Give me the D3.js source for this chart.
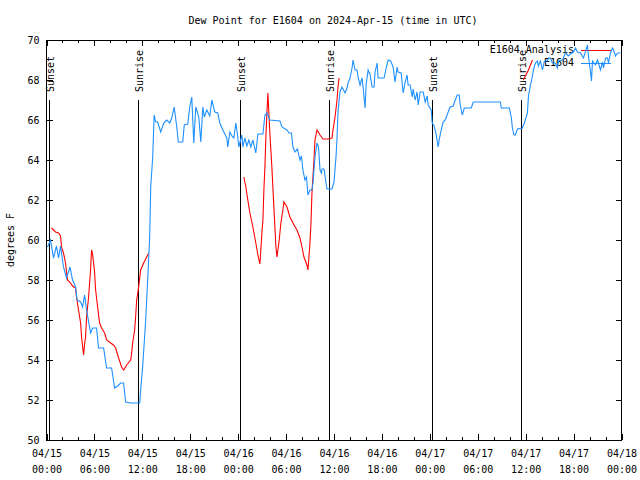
<!DOCTYPE html>
<html>
<head>
<meta charset="utf-8">
<script src="https://cdn.jsdelivr.net/npm/d3@7"></script>
<style>
  html, body { margin: 0; padding: 0; background: #fff; }
  svg { display: block; }
  text { font-family: "DejaVu Sans Mono", "Liberation Mono", monospace; font-size: 10px; fill: #000; }
</style>
</head>
<body>
<svg id="chart" width="640" height="480"></svg>
<script>
// ---- data (time = hours after 2024-04-15 00:00 UTC, value = dew point °F) ----
const chartTitle = "Dew Point for E1604 on 2024-Apr-15 (time in UTC)";
const yLabel = "degrees F";
const seriesNames = ["E1604 Analysis", "E1604"];
const yTicks = [50, 52, 54, 56, 58, 60, 62, 64, 66, 68, 70];

const obsHours = [0.13,0.50,0.88,1.25,1.51,1.76,2.13,2.51,2.95,3.26,3.64,3.83,4.27,4.52,4.77,5.02,5.52,5.77,6.27,6.52,
  7.15,7.53,8.15,8.53,8.91,9.28,9.66,9.91,10.54,11.67,11.79,12.04,12.42,12.67,12.92,13.05,13.30,13.48,13.67,13.92,
  14.30,14.68,15.05,15.43,15.68,15.99,16.31,16.50,17.06,17.25,17.69,17.94,18.19,18.44,18.69,19.07,19.32,19.57,19.76,20.07,
  20.45,20.70,21.07,21.45,21.70,22.08,22.58,22.70,22.96,23.21,23.46,23.71,23.90,24.08,24.46,24.59,24.84,25.09,25.34,25.59,
  25.84,26.21,26.47,27.10,27.35,27.60,27.97,29.23,29.48,30.11,30.36,30.67,30.86,31.11,31.42,31.74,31.92,32.11,32.36,32.55,
  32.74,32.99,33.24,33.37,33.62,33.87,34.06,34.25,34.43,34.50,34.75,35.00,35.12,35.75,36.00,36.25,36.38,36.50,36.75,37.00,
  37.13,37.38,37.63,37.76,38.01,38.26,38.38,38.64,38.89,39.01,39.26,39.51,39.64,39.89,40.02,40.27,40.52,40.77,41.02,41.14,
  41.40,41.52,42.27,42.53,42.78,43.09,43.40,43.65,43.90,44.03,44.41,44.66,44.91,45.16,45.28,45.53,45.79,45.91,46.16,46.41,
  46.54,46.79,47.17,47.42,47.67,47.79,48.17,48.29,48.55,48.80,49.05,49.17,49.42,49.67,49.93,50.30,50.55,50.93,51.18,51.43,
  51.68,51.81,52.06,52.31,53.19,53.44,56.83,56.95,57.96,58.21,58.34,58.53,58.71,58.97,59.59,59.84,60.22,60.35,60.60,60.85,
  60.97,61.22,61.47,61.59,61.84,62.10,62.35,62.72,62.85,63.10,63.35,63.72,63.97,64.10,64.60,64.98,65.35,65.60,65.98,66.23,
  66.48,66.86,67.24,67.74,67.86,68.11,68.24,68.37,68.74,68.99,69.37,69.62,69.75,70.00,70.25,70.37,70.62,70.87,71.00,71.25,
  71.50,71.88];
const obsValues = [59.65,60.0,59.1,59.7,59.1,59.7,58.65,58.1,58.65,58.0,57.65,57.0,56.9,56.65,57.25,56.5,55.35,55.6,55.6,54.6,
  54.6,53.6,53.6,52.6,52.7,52.85,52.85,51.9,51.85,51.85,52.5,53.65,56.0,58.0,60.15,62.65,64.15,66.25,65.9,65.9,
  65.4,65.85,66.0,65.85,66.1,66.65,65.65,64.9,64.9,65.75,65.8,66.65,67.15,64.85,66.65,66.15,64.9,66.65,66.15,66.5,
  66.2,67.0,66.4,66.35,65.85,65.5,65.1,64.65,65.4,65.2,65.1,65.85,65.3,64.65,65.25,64.65,65.1,64.7,65.0,64.65,
  65.0,64.35,65.3,65.3,66.25,66.35,66.0,65.95,65.65,65.5,65.35,65.35,64.65,64.4,64.55,64.0,64.2,63.5,63.0,63.15,
  62.25,62.5,62.5,62.85,64.15,64.85,64.65,63.5,63.35,63.55,63.55,62.85,62.55,62.55,62.9,64.15,65.1,66.4,67.4,67.65,
  67.55,67.35,67.6,67.85,68.1,68.6,69.0,68.5,68.5,68.15,67.75,68.1,67.65,66.6,67.75,68.5,68.25,67.65,67.65,68.4,
  68.85,68.1,68.1,68.6,69.0,68.95,68.65,67.9,68.65,68.4,68.35,67.35,67.9,68.25,67.75,67.75,67.15,67.55,67.0,67.4,
  66.75,67.4,67.4,66.9,67.2,66.75,66.5,65.85,65.7,65.25,64.65,65.0,65.5,65.9,66.0,66.4,66.65,66.7,67.0,67.25,
  67.25,66.75,66.25,66.6,66.6,66.9,66.9,66.6,66.6,66.1,65.6,65.25,65.25,65.55,65.6,65.85,66.35,67.2,67.75,68.2,
  68.5,68.85,68.95,68.7,68.95,68.5,68.95,68.95,69.1,69.1,68.85,68.85,68.6,68.95,69.0,69.35,69.2,69.3,69.4,69.6,
  69.4,69.35,69.1,69.75,69.2,68.45,67.95,68.95,68.75,69.0,68.5,68.9,68.6,69.1,69.1,68.85,69.35,69.6,69.5,69.2,
  69.35,69.35];

// analysis: null separates the gaps in the series
const anaHours = [0.63,1.13,1.51,1.76,1.88,2.13,2.38,2.51,2.63,3.01,3.26,3.64,3.76,4.01,4.27,4.39,4.64,4.77,4.89,5.02,
  5.27,5.52,5.64,5.77,6.02,6.15,6.40,6.65,6.90,7.28,7.53,8.03,8.40,8.66,9.03,9.41,9.66,10.04,10.54,10.66,
  10.79,11.04,11.16,11.29,11.54,11.79,12.17,12.54,12.80,null,
  24.71,24.96,25.21,25.47,25.84,26.21,26.47,26.72,26.97,27.10,27.22,27.35,27.47,27.60,27.72,27.97,28.22,28.47,28.73,28.85,
  29.10,29.35,29.60,29.73,30.11,30.48,30.86,31.36,31.74,31.99,32.24,32.61,32.74,32.99,33.12,33.24,33.49,33.62,33.87,34.25,
  34.62,35.25,35.75,35.87,36.13,36.38,36.50,36.63,null,
  59.71,60.35,60.85];
const anaValues = [60.6,60.4,60.35,60.2,59.65,59.35,58.85,58.4,58.0,57.85,57.7,57.6,57.15,56.5,55.85,55.15,54.25,54.8,55.15,56.15,
  57.15,58.5,59.5,59.3,58.4,57.5,56.65,55.85,55.6,55.35,55.0,54.85,54.75,54.6,54.1,53.65,53.5,53.75,54.0,54.35,
  54.85,55.5,56.15,57.0,57.65,58.5,58.85,59.15,59.35,null,
  63.15,62.65,62.0,61.35,60.65,59.85,59.25,58.8,60.35,61.0,62.5,63.65,65.15,66.35,67.35,65.35,63.65,61.65,59.65,59.15,
  59.85,60.85,61.5,61.9,61.65,61.15,60.85,60.5,60.1,59.65,59.15,58.75,58.5,59.85,60.85,62.35,64.0,65.0,65.5,65.25,
  65.05,65.05,65.1,65.5,66.15,67.0,67.65,68.1,null,
  68.0,68.5,69.0];

const sunEventNames = ["Sunset", "Sunrise", "Sunset", "Sunrise", "Sunset", "Sunrise"];
const sunEventHours = [0.27, 11.46, 24.23, 35.37, 48.27, 59.42];

const seriesColors = ["#ff0000", "#1e90ff"];

// ---- drawing ----
const svg = d3.select("#chart");
const W = 640, H = 480;
const m = { left: 46.5, right: 621.5, top: 40, bottom: 440 };
const t0 = Date.UTC(2024, 3, 15, 0, 0);
const toDate = h => new Date(t0 + h * 3600e3);

const x = d3.scaleUtc().domain([new Date(t0), new Date(Date.UTC(2024, 3, 18, 0, 0))]).range([m.left, m.right]);
const y = d3.scaleLinear().domain([50, 70]).range([m.bottom, m.top]);

svg.append("rect").attr("width", W).attr("height", H).attr("fill", "#fff");

// clip
svg.append("defs").append("clipPath").attr("id", "plotclip")
  .append("rect").attr("x", m.left).attr("y", m.top).attr("width", m.right - m.left).attr("height", m.bottom - m.top);

// minor x ticks (every 2h), bottom and top
const minorBottom = d3.axisBottom(x).ticks(d3.utcHour.every(2)).tickSize(-3).tickFormat("");
const minorTop = d3.axisTop(x).ticks(d3.utcHour.every(2)).tickSize(-3).tickFormat("");
svg.append("g").attr("transform", `translate(0,${m.bottom})`).call(minorBottom).call(g => g.select(".domain").remove());
svg.append("g").attr("transform", `translate(0,${m.top})`).call(minorTop).call(g => g.select(".domain").remove());

// major x ticks (every 6h)
const fmtDate = d3.utcFormat("%m/%d"), fmtTime = d3.utcFormat("%H:%M");
const xAxis = d3.axisBottom(x).ticks(d3.utcHour.every(6)).tickSize(-6).tickPadding(8).tickFormat("");
const gx = svg.append("g").attr("transform", `translate(0,${m.bottom})`).call(xAxis);
gx.select(".domain").remove();
gx.selectAll(".tick text").each(function(d) {
  const t = d3.select(this);
  t.attr("y", 0).attr("dy", null).style("font-size", "10px").style("font-family", "DejaVu Sans Mono");
  t.append("tspan").attr("x", 0).attr("y", 17).text(fmtDate(d));
  t.append("tspan").attr("x", 0).attr("y", 33).text(fmtTime(d));
});
const xTop = d3.axisTop(x).ticks(d3.utcHour.every(6)).tickSize(-6).tickFormat("");
svg.append("g").attr("transform", `translate(0,${m.top})`).call(xTop).call(g => g.select(".domain").remove());

// y axis
const yAxis = d3.axisLeft(y).tickValues(yTicks).tickSize(-6).tickPadding(7).tickFormat(d3.format("d"));
const gy = svg.append("g").attr("transform", `translate(${m.left},0)`).call(yAxis);
gy.select(".domain").remove();
gy.selectAll(".tick text").style("font-size", "10px").style("font-family", "DejaVu Sans Mono");
const yRight = d3.axisRight(y).tickValues(yTicks).tickSize(-6).tickFormat("");
svg.append("g").attr("transform", `translate(${m.right},0)`).call(yRight).call(g => g.select(".domain").remove());

svg.selectAll(".tick line").attr("stroke", "#000").attr("shape-rendering", "crispEdges");

// sunrise / sunset markers
const sun = svg.append("g");
sunEventHours.forEach((h, i) => {
  const sx = Math.round(x(toDate(h))) + 0.5;
  sun.append("line").attr("x1", sx).attr("x2", sx).attr("y1", 100).attr("y2", m.bottom)
    .attr("stroke", "#000").attr("stroke-width", 1).attr("shape-rendering", "crispEdges");
  sun.append("text").attr("transform", `translate(${sx + 4.5},92) rotate(-90)`)
    .attr("text-anchor", "start").text(sunEventNames[i]);
});

// legend text (drawn before data, like the original)
const leg = svg.append("g");
seriesNames.forEach((name, i) => {
  const ly = 49.5 + i * 13;
  leg.append("text").attr("x", 574).attr("y", ly + 3.5).attr("text-anchor", "end").text(name);
  leg.append("line").attr("x1", 581).attr("x2", 611).attr("y1", Math.round(ly) + 0.5).attr("y2", Math.round(ly) + 0.5)
    .attr("stroke", seriesColors[i]).attr("stroke-width", 1).attr("shape-rendering", "crispEdges");
});

// data lines
const plot = svg.append("g").attr("clip-path", "url(#plotclip)");
const line = d3.line().defined(d => d[0] !== null && d[1] !== null)
  .x(d => x(toDate(d[0]))).y(d => y(d[1]));

const anaData = anaHours.map((h, i) => [h, anaValues[i]]);
const obsData = obsHours.map((h, i) => [h, obsValues[i]]);

plot.append("path").datum(anaData).attr("d", line).attr("fill", "none")
  .attr("stroke", seriesColors[0]).attr("stroke-width", 1.1);
plot.append("path").datum(obsData).attr("d", line).attr("fill", "none")
  .attr("stroke", seriesColors[1]).attr("stroke-width", 1.1);

// border
svg.append("rect").attr("x", m.left).attr("y", m.top).attr("width", m.right - m.left).attr("height", m.bottom - m.top)
  .attr("fill", "none").attr("stroke", "#000").attr("stroke-width", 1).attr("shape-rendering", "crispEdges");

// title and y label
svg.append("text").attr("x", 333).attr("y", 24).attr("text-anchor", "middle").text(chartTitle);
svg.append("text").attr("transform", `translate(14,240) rotate(-90)`).attr("text-anchor", "middle").text(yLabel);
</script>
</body>
</html>
